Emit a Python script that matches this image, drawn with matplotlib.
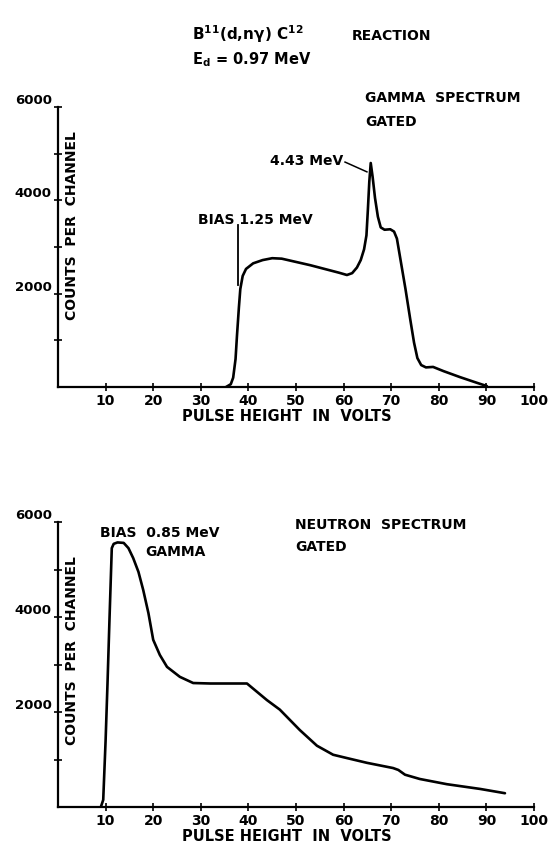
import matplotlib
matplotlib.use("Agg")
import matplotlib.pyplot as plt

plt.rcParams['font.family'] = ['DejaVu Sans']
plt.rcParams['font.weight'] = 'bold'
plt.rcParams['mathtext.fontset'] = 'dejavusans'
plt.rcParams['mathtext.default'] = 'bf'

# gamma spectrum (gated), B11(d,n gamma)C12, Ed = 0.97 MeV
gamma_volts = [35.3, 36.3, 36.8, 37.3, 37.6, 38.0, 38.3, 38.8, 39.5, 41, 43, 45, 47, 50,
               53, 56, 59, 60.7, 61.8, 62.8, 63.6, 64.3, 64.8, 65.1, 65.4, 65.7, 66.1,
               66.6, 67.2, 67.8, 68.6, 69.8, 70.6, 71.2, 72, 73, 74, 74.8, 75.5, 76.3,
               77.3, 78.8, 81, 84.5, 88, 90.1]
gamma_counts = [0, 60, 200, 600, 1100, 1700, 2100, 2380, 2530, 2650, 2720, 2760, 2750, 2680,
                2610, 2530, 2450, 2400, 2440, 2560, 2720, 2950, 3250, 3800, 4400, 4800, 4500,
                4050, 3650, 3420, 3370, 3380, 3330, 3180, 2700, 2100, 1450, 950, 620, 470,
                420, 430, 340, 210, 90, 20]

# neutron spectrum (gated)
neutron_volts = [9.0, 9.5, 10.0, 10.4, 10.8, 11.3, 11.7, 12.5, 13.8, 14.8, 15.8, 16.9, 17.9,
                 19.0, 20.0, 21.4, 22.9, 25.6, 28.4, 32, 36, 39.7, 43.9, 46.6, 50.8, 54.4,
                 57.8, 60.7, 64.9, 70.4, 71.5, 72.9, 76, 81.7, 88.7, 93.9]
neutron_counts = [0, 150, 1400, 2600, 3900, 5450, 5540, 5570, 5560, 5450, 5240, 4950, 4570,
                  4080, 3520, 3200, 2950, 2740, 2610, 2600, 2600, 2600, 2250, 2050, 1620, 1290,
                  1100, 1030, 930, 820, 780, 680, 590, 480, 380, 290]

x_ticks = [10, 20, 30, 40, 50, 60, 70, 80, 90, 100]
y_ticks = [1000, 2000, 3000, 4000, 5000, 6000]
y_tick_labels = ['', '2000', '', '4000', '', '6000']

W, H = 550, 844
fig = plt.figure(figsize=(W / 100, H / 100), dpi=100)


def make_axes(top_px, bottom_px):
    ax = fig.add_axes([58 / W, 1 - bottom_px / H, 476 / W, (bottom_px - top_px) / H])
    ax.set_xlim(0, 100)
    ax.set_ylim(0, 6000)
    for s in ['top', 'right']:
        ax.spines[s].set_visible(False)
    for s in ['left', 'bottom']:
        ax.spines[s].set_linewidth(1.6)
    ax.set_xticks(x_ticks)
    ax.set_yticks(y_ticks, labels=y_tick_labels)
    ax.tick_params(axis='x', direction='inout', length=6, width=1.2, pad=2, labelsize=10)
    ax.tick_params(axis='y', direction='inout', length=6, width=1.2, pad=1.5, labelsize=9.5)
    for lab in ax.get_yticklabels():
        lab.set_va('bottom')
    ax.set_xlabel('PULSE HEIGHT  IN  VOLTS', fontsize=10.5, fontweight='bold')
    ax.xaxis.set_label_coords(0.48, -0.078)
    ax.patch.set_visible(False)
    return ax


ax1 = make_axes(107, 387)
ax1.plot(gamma_volts, gamma_counts, color='black', lw=1.9, solid_capstyle='round')
ax1.text(3, 3470, 'COUNTS  PER  CHANNEL', rotation=90, ha='center', va='center', fontsize=10)
ax1.text(64.5, 6190, 'GAMMA  SPECTRUM', ha='left', va='center', fontsize=10, clip_on=False)
ax1.text(64.5, 5680, 'GATED', ha='left', va='center', fontsize=10)
ax1.text(29.4, 3580, 'BIAS 1.25 MeV', ha='left', va='center', fontsize=10)
ax1.plot([37.9, 37.9], [2190, 3470], color='black', lw=1.3)
ax1.text(59.9, 4840, '4.43 MeV', ha='right', va='center', fontsize=10)
ax1.plot([60.3, 64.9], [4820, 4610], color='black', lw=1.1)

ax2 = make_axes(522, 807)
ax2.plot(neutron_volts, neutron_counts, color='black', lw=1.9, solid_capstyle='round')
ax2.text(3, 3300, 'COUNTS  PER  CHANNEL', rotation=90, ha='center', va='center', fontsize=10)
ax2.text(8.8, 5770, 'BIAS  0.85 MeV', ha='left', va='center', fontsize=10)
ax2.text(18.3, 5370, 'GAMMA', ha='left', va='center', fontsize=10)
ax2.text(49.8, 5940, 'NEUTRON  SPECTRUM', ha='left', va='center', fontsize=10)
ax2.text(49.8, 5470, 'GATED', ha='left', va='center', fontsize=10)

fig.text(192 / W, 1 - 40 / H, r'B$^{11}$(d,n$\gamma$) C$^{12}$', ha='left', va='baseline', fontsize=11)
fig.text(352 / W, 1 - 40 / H, 'REACTION', ha='left', va='baseline', fontsize=10)
fig.text(192 / W, 1 - 64 / H, r'E$_{d}$ = 0.97 MeV', ha='left', va='baseline', fontsize=10.5)

fig.savefig('out.png', dpi=100)
